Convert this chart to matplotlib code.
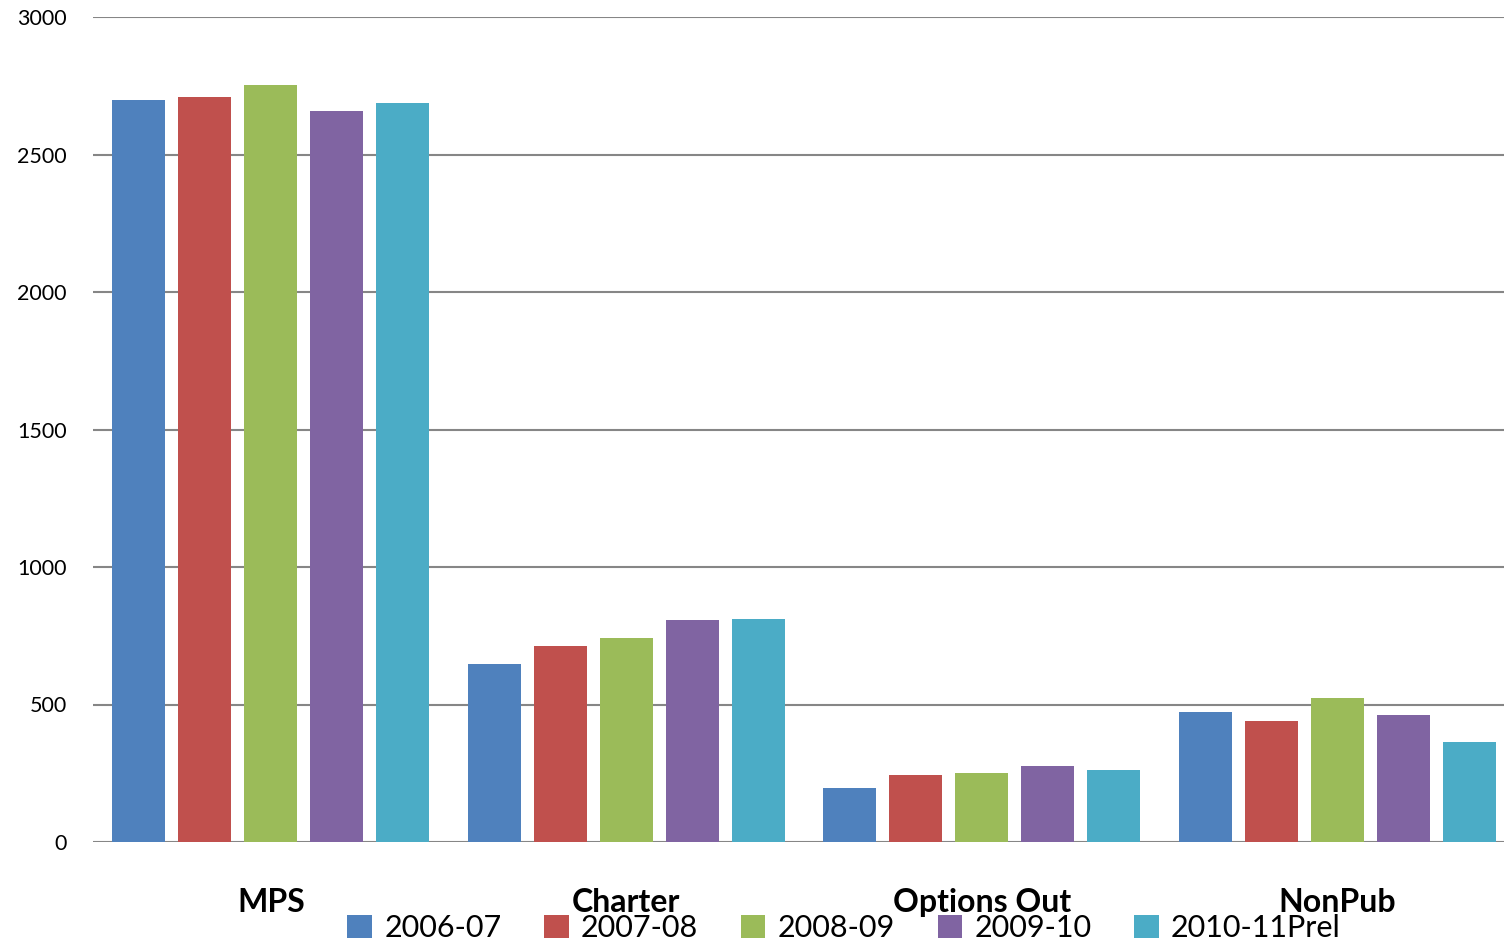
import matplotlib
matplotlib.use("Agg")
import matplotlib.pyplot as plt
import numpy as np

categories = ["MPS", "Charter", "Options Out", "NonPub"]
series_names = ["2006-07", "2007-08", "2008-09", "2009-10", "2010-11Prel"]
values = {
    "2006-07":     [2698, 647, 196, 473],
    "2007-08":     [2709, 713, 244, 440],
    "2008-09":     [2753, 742, 251, 524],
    "2009-10":     [2658, 807, 276, 462],
    "2010-11Prel": [2687, 811, 262, 364],
}
colors = ["#4F81BD", "#C0504D", "#9BBB59", "#8064A2", "#4BACC6"]
yticks = [0, 500, 1000, 1500, 2000, 2500, 3000]

plt.rcParams['font.family'] = ['Lato', 'DejaVu Sans']

fig = plt.figure(figsize=(15.04, 9.43), dpi=100)
ax = fig.add_axes([93/1504, 1-842/943, (1515-93)/1504, (842-17)/943])

x = np.arange(len(categories))
step = 0.1857
width = 0.149
handles = []
for i, name in enumerate(series_names):
    off = (i - 2) * step
    b = ax.bar(x + off, values[name], width=width, color=colors[i], label=name, zorder=3)
    handles.append(b)

ax.set_xlim(-0.5, 3.5)
ax.set_ylim(0, 3000)
ax.set_yticks(yticks)
ax.set_yticklabels([str(v) for v in yticks], fontsize=15.5)
ax.tick_params(axis='y', length=0, pad=19)
ax.set_xticks(x)
ax.set_xticklabels(categories, fontsize=23, fontweight='bold')
ax.tick_params(axis='x', length=0, pad=33)
ax.grid(axis='y', color='#868686', linewidth=1.5, zorder=0)
for s in ax.spines.values():
    s.set_visible(False)

fig.legend(handles=handles, labels=series_names, loc='center', ncol=5,
           bbox_to_anchor=(844/1504, 1-928/943), frameon=False, fontsize=22,
           handlelength=0.8, handleheight=0.8, handletextpad=0.4, columnspacing=1.4,
           borderaxespad=0, borderpad=0)

fig.savefig("out.png", dpi=100)
